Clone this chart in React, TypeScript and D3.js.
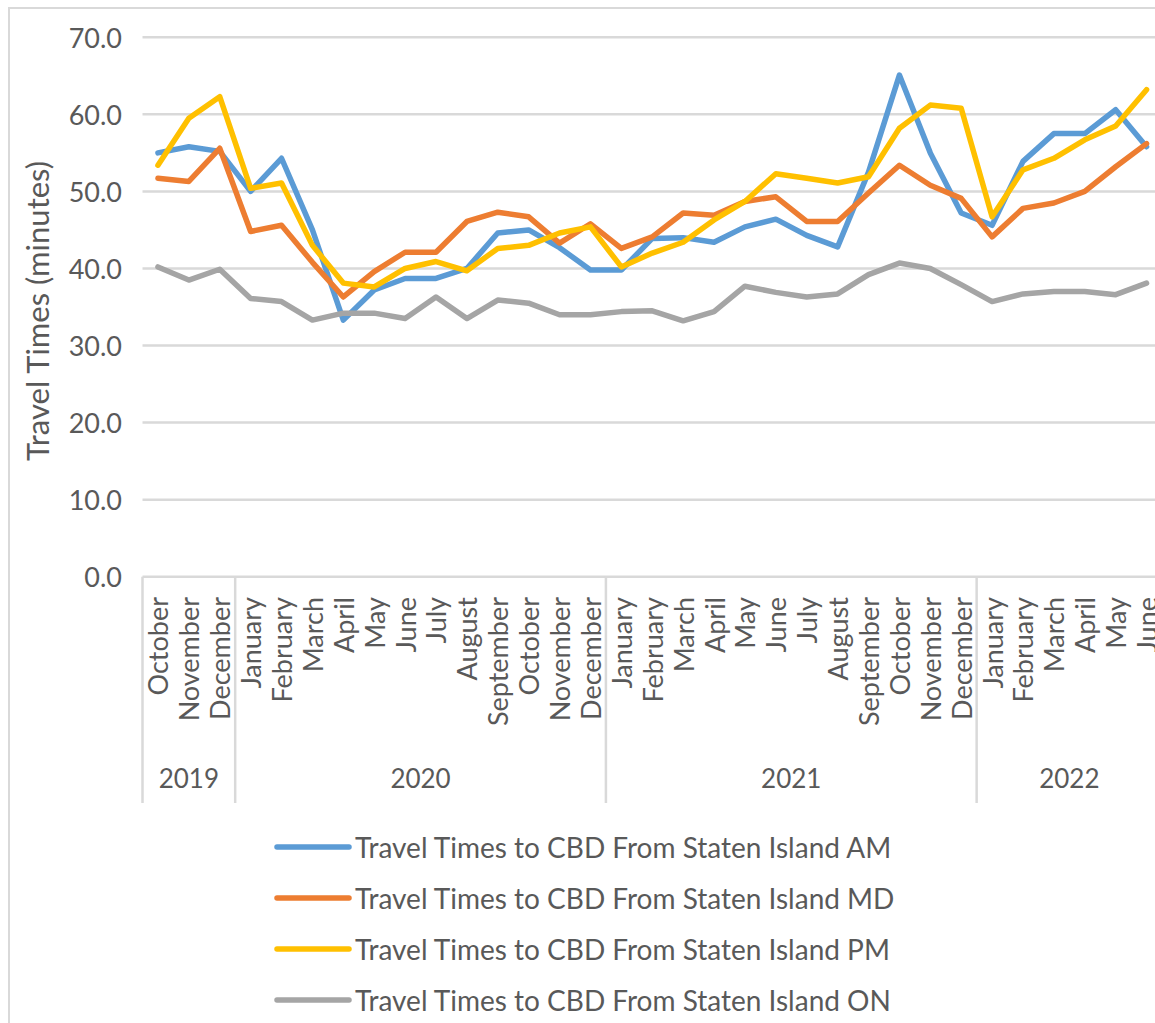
import React from 'react';
import * as d3 from 'd3';

// months Oct 2019 .. Jun 2022
const months = [
  'October', 'November', 'December',
  'January', 'February', 'March', 'April', 'May', 'June', 'July', 'August', 'September', 'October', 'November', 'December',
  'January', 'February', 'March', 'April', 'May', 'June', 'July', 'August', 'September', 'October', 'November', 'December',
  'January', 'February', 'March', 'April', 'May', 'June',
];

const years = [
  { label: '2019', count: 3 },
  { label: '2020', count: 12 },
  { label: '2021', count: 12 },
  { label: '2022', count: 6 },
];

const amValues = [
  55.0, 55.8, 55.2,
  50.0, 54.3, 45.0, 33.3, 37.2, 38.7, 38.7, 40.0, 44.6, 45.0, 42.7, 39.8,
  39.8, 43.9, 44.0, 43.4, 45.4, 46.4, 44.3, 42.8, 52.5, 65.1, 55.0, 47.2,
  45.6, 53.9, 57.5, 57.5, 60.6, 55.8,
];

const mdValues = [
  51.7, 51.3, 55.6,
  44.8, 45.6, 40.8, 36.3, 39.6, 42.1, 42.1, 46.1, 47.3, 46.7, 43.3, 45.8,
  42.6, 44.1, 47.2, 46.9, 48.7, 49.3, 46.1, 46.1, 49.8, 53.4, 50.8, 49.1,
  44.1, 47.8, 48.5, 50.0, 53.2, 56.2,
];

const pmValues = [
  53.4, 59.5, 62.3,
  50.4, 51.1, 43.0, 38.1, 37.6, 40.0, 40.9, 39.7, 42.6, 43.0, 44.6, 45.4,
  40.2, 42.0, 43.4, 46.3, 48.7, 52.3, 51.7, 51.1, 51.9, 58.2, 61.2, 60.8,
  46.7, 52.8, 54.3, 56.7, 58.5, 63.2,
];

const onValues = [
  40.2, 38.5, 39.9,
  36.1, 35.7, 33.3, 34.2, 34.2, 33.5, 36.3, 33.5, 35.9, 35.5, 34.0, 34.0,
  34.4, 34.5, 33.2, 34.4, 37.7, 36.9, 36.3, 36.7, 39.2, 40.7, 40.0, 37.9,
  35.7, 36.7, 37.0, 37.0, 36.6, 38.1,
];

const yTicks = [0, 10, 20, 30, 40, 50, 60, 70];

const seriesNames = [
  'Travel Times to CBD From Staten Island AM',
  'Travel Times to CBD From Staten Island MD',
  'Travel Times to CBD From Staten Island PM',
  'Travel Times to CBD From Staten Island ON',
];
const seriesColors = ['#5B9BD5', '#ED7D31', '#FFC000', '#A5A5A5'];
const seriesValues = [amValues, mdValues, pmValues, onValues];

const W = 1155;
const H = 1023;
const FONT = 'Lato, "Open Sans", sans-serif';
const TEXT = '#595959';
const GRID = '#d9d9d9';

export default function App() {
  const x = d3.scaleBand<number>()
    .domain(months.map((_, i) => i))
    .range([142.5, 1162])
    .padding(0);
  const bw = x.bandwidth();
  const cx = (i: number) => (x(i) as number) + bw / 2;

  const y = d3.scaleLinear().domain([0, 70]).range([576.7, 37.3]);

  const line = d3.line<number>()
    .x((_, i) => cx(i))
    .y(d => y(d));

  // group boundaries
  let acc = 0;
  const groups = years.map(g => {
    const start = acc;
    acc += g.count;
    return { ...g, start, end: acc };
  });

  const axisBottom = 803;

  return (
    <svg width={W} height={H} style={{ position: 'absolute', left: 0, top: 0, background: '#fff' }}
      fontFamily={FONT}>
      <rect x={9} y={8} width={W + 20} height={H + 20} fill="#fff" stroke={GRID} strokeWidth={2} />

      {/* gridlines */}
      {yTicks.map(t => (
        <line key={t} x1={142.5} x2={1162} y1={y(t)} y2={y(t)} stroke={GRID} strokeWidth={2.5} />
      ))}

      {/* y tick labels */}
      {yTicks.map(t => (
        <text key={'l' + t} x={122} y={y(t)} textAnchor="end" dominantBaseline="central"
          fontSize={27} fill={TEXT}>{t.toFixed(1)}</text>
      ))}

      <text transform={`translate(37,${(y(0) + y(70)) / 2 + 4}) rotate(-90)`} textAnchor="middle"
        dominantBaseline="central" fontSize={31} fill={TEXT}>Travel Times (minutes)</text>

      {/* category separators */}
      {groups.map(g => (
        <line key={'s' + g.label} x1={x(g.start) as number} x2={x(g.start) as number}
          y1={y(0)} y2={axisBottom} stroke={GRID} strokeWidth={2.5} />
      ))}
      <line x1={1162} x2={1162} y1={y(0)} y2={axisBottom} stroke={GRID} strokeWidth={2.5} />

      {/* month labels */}
      {months.map((m, i) => (
        <text key={'m' + i} transform={`translate(${cx(i)},597) rotate(-90)`} textAnchor="end"
          dominantBaseline="central" fontSize={27} fill={TEXT}>{m}</text>
      ))}

      {/* year labels */}
      {groups.map(g => (
        <text key={'y' + g.label} x={((x(g.start) as number) + (g.end >= months.length ? 1162 : (x(g.end) as number))) / 2}
          y={778} textAnchor="middle" dominantBaseline="central" fontSize={26} fill={TEXT}>{g.label}</text>
      ))}

      {/* series */}
      {seriesValues.map((vals, s) => (
        <path key={'p' + s} d={line(vals) || ''} fill="none" stroke={seriesColors[s]} strokeWidth={5.5}
          strokeLinejoin="round" strokeLinecap="round" />
      ))}

      {/* legend */}
      {seriesNames.map((n, s) => {
        const ly = 847 + s * 51;
        return (
          <g key={'lg' + s}>
            <line x1={277} x2={349} y1={ly} y2={ly} stroke={seriesColors[s]} strokeWidth={5.5} strokeLinecap="round" />
            <text x={355} y={ly} dominantBaseline="central" fontSize={28} fill={TEXT}>{n}</text>
          </g>
        );
      })}
    </svg>
  );
}
